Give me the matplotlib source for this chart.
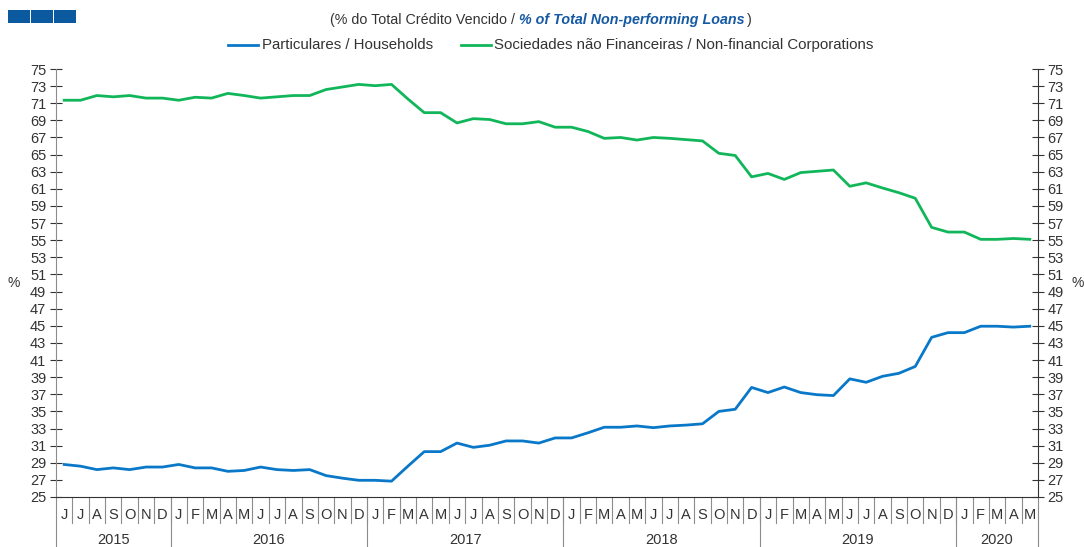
import numpy as np
import matplotlib.pyplot as plt
import matplotlib.transforms as mtransforms
from matplotlib.patches import Rectangle

plt.rcParams['font.family'] = ['Liberation Sans', 'DejaVu Sans']

# monthly data, Jun 2015 .. May 2020
months = ['J', 'J', 'A', 'S', 'O', 'N', 'D'] + ['J', 'F', 'M', 'A', 'M', 'J', 'J', 'A', 'S', 'O', 'N', 'D'] * 4 + ['J', 'F', 'M', 'A', 'M']
years = ['2015', '2016', '2017', '2018', '2019', '2020']
year_len = [7, 12, 12, 12, 12, 5]

households = [28.8, 28.6, 28.2, 28.4, 28.2, 28.5, 28.5,
              28.8, 28.4, 28.4, 28.0, 28.1, 28.5, 28.2, 28.1, 28.2, 27.5, 27.2, 26.95,
              26.95, 26.85, 28.6, 30.3, 30.3, 31.3, 30.8, 31.05, 31.55, 31.55, 31.3, 31.9,
              31.9, 32.5, 33.15, 33.15, 33.3, 33.1, 33.3, 33.4, 33.55, 35.0, 35.25, 37.8,
              37.2, 37.85, 37.2, 36.95, 36.85, 38.8, 38.4, 39.1, 39.45, 40.25, 43.65, 44.2,
              44.2, 44.95, 44.95, 44.85, 44.95]
corporations = [71.35, 71.35, 71.9, 71.75, 71.9, 71.6, 71.6,
                71.35, 71.7, 71.6, 72.15, 71.9, 71.6, 71.75, 71.9, 71.9, 72.6, 72.9, 73.2,
                73.05, 73.2, 71.5, 69.9, 69.9, 68.7, 69.2, 69.1, 68.6, 68.6, 68.85, 68.2,
                68.2, 67.7, 66.9, 67.0, 66.7, 67.0, 66.9, 66.75, 66.6, 65.15, 64.9, 62.4,
                62.8, 62.1, 62.9, 63.05, 63.2, 61.3, 61.7, 61.1, 60.55, 59.9, 56.5, 55.95,
                55.95, 55.1, 55.1, 55.2, 55.1]

blue = '#0a78c8'
green = '#12b65a'
dark = '#333333'
sep = '#8c8c8c'

fig = plt.figure(figsize=(10.84, 5.47), dpi=100)
ax = fig.add_axes([56 / 1084, 50 / 547, (1038 - 56) / 1084, (497 - 69) / 547])

x = np.arange(len(months))
ax.plot(x, households, color=blue, lw=2.0, solid_joinstyle='round')
ax.plot(x, corporations, color=green, lw=2.0, solid_joinstyle='round')

ax.set_xlim(-0.5, len(months) - 0.5)
ax.set_ylim(25, 75)
ax.set_yticks(range(25, 76, 2))
ax.set_xticks([])
ax.tick_params(axis='y', direction='inout', length=8, width=0.8, color=dark,
               labelsize=10.5, labelcolor=dark, pad=3, left=True, right=True,
               labelleft=True, labelright=True)
ax.spines['top'].set_visible(False)
ax.spines['left'].set_color(sep)
ax.spines['right'].set_color(dark)
ax.spines['bottom'].set_color(dark)

# month / year category axis
tr = mtransforms.blended_transform_factory(ax.transData, ax.transAxes)
h = ax.get_position().height * 547
d_month = -26 / h
d_year = -52 / h
for i, m in enumerate(months):
    ax.text(i, -18 / h, m, transform=tr, ha='center', va='center', fontsize=10.5, color=dark)
bounds = np.cumsum([0] + year_len) - 0.5
for i in range(1, len(months)):
    ax.plot([i - 0.5, i - 0.5], [0, d_month], transform=tr, color=sep, lw=0.8, clip_on=False)
for b in bounds:
    ax.plot([b, b], [0, d_year], transform=tr, color=sep, lw=0.8, clip_on=False)
for y, a, b in zip(years, bounds[:-1], bounds[1:]):
    ax.text((a + b) / 2, -43 / h, y, transform=tr, ha='center', va='center', fontsize=10.5, color=dark)

fig.text(14 / 1084, 1 - 283 / 547, '%', ha='center', va='center', fontsize=10, color=dark)
fig.text(1078 / 1084, 1 - 283 / 547, '%', ha='center', va='center', fontsize=10, color=dark)

# title
t1 = fig.text(330 / 1084, 1 - 20 / 547, '(% do Total Crédito Vencido / ', ha='left', va='center',
              fontsize=10.3, color=dark)
fig.canvas.draw()
bb = t1.get_window_extent()
t2 = fig.text(bb.x1 / 1084, 1 - 20 / 547, '% of Total Non-performing Loans', ha='left', va='center',
              fontsize=10.3, color='#1559a3', fontweight='bold', fontstyle='italic')
bb = t2.get_window_extent()
fig.text(bb.x1 / 1084 + 0.002, 1 - 20 / 547, ')', ha='left', va='center', fontsize=10.3, color=dark)

# legend
fig.add_artist(plt.Line2D([228 / 1084, 258 / 1084], [1 - 45 / 547] * 2, color=blue, lw=2.0))
fig.text(262 / 1084, 1 - 45 / 547, 'Particulares / Households', ha='left', va='center', fontsize=10.8, color=dark)
fig.add_artist(plt.Line2D([461 / 1084, 491 / 1084], [1 - 45 / 547] * 2, color=green, lw=2.0))
fig.text(494 / 1084, 1 - 45 / 547, 'Sociedades não Financeiras / Non-financial Corporations',
         ha='left', va='center', fontsize=10.8, color=dark)

# logo squares
for x0 in [8, 31, 54]:
    fig.add_artist(Rectangle((x0 / 1084, 1 - 23 / 547), 22 / 1084, 13 / 547,
                             transform=fig.transFigure, color='#0b5aa0', lw=0))

fig.savefig('out.png', dpi=100)
